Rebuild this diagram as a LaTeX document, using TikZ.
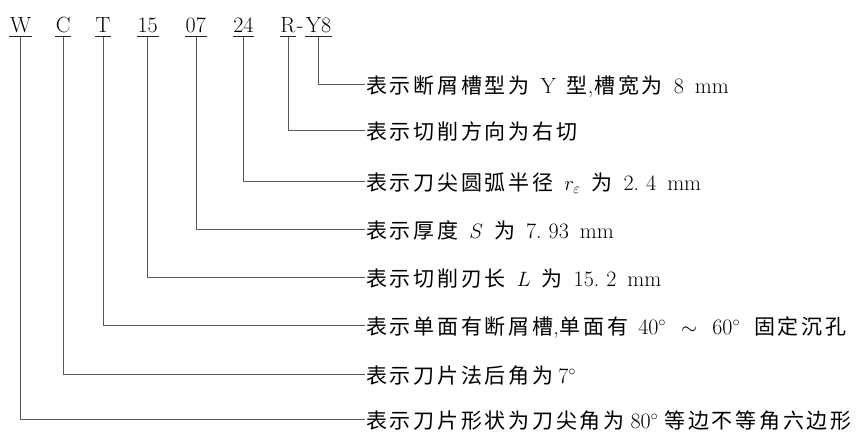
\documentclass[tikz,border=0pt]{standalone}
\usepackage{fontspec}
\newfontfamily\cjkf[LetterSpace=13]{Noto Sans CJK SC}
\newcommand\cj[1]{{\cjkf\fontsize{21}{26}\selectfont #1}}
\newcommand\gp{\hspace{11pt}}
\newcommand\dg{\hspace{7pt}}
\usetikzlibrary{calc}
\begin{document}
\begin{tikzpicture}[x=1pt,y=-1pt,
  code/.style={inner sep=0pt, anchor=base, font=\fontsize{22}{26}\selectfont},
  desc/.style={anchor=west, inner xsep=1pt, inner ysep=0pt, text height=19pt, text depth=1pt, font=\fontsize{22}{26}\selectfont},
  conn/.style={draw=black!65, line width=0.6pt},
  ul/.style={draw=black!85, line width=0.7pt}]
\useasboundingbox (0,0) rectangle (864,432);
% codes
\node[code] (cW) at (20.6,32) {W};
\node[code] (cC) at (63.2,32) {C};
\node[code] (cT) at (103,32) {T};
\node[code] (c15) at (147.7,32) {15};
\node[code] (c07) at (195.8,32) {07};
\node[code] (c24) at (243.4,32) {24};
\node[code] (cR) at (287.8,32) {R};
\node[code] (hy) at (300.2,32) {-};
\node[code] (cY) at (318.6,32) {Y8};
\foreach \n in {cW,cC,cT,c15,c07,c24,cR,cY}{
  \draw[ul] ([shift={(-0.6,4.7)}]\n.base west) -- ([shift={(0.6,4.7)}]\n.base east);
}
% descriptions
\node[desc] (dY) at (365,84) {\cj{表示断屑槽型为}\gp Y\gp\cj{型},\hspace{1pt}\cj{槽宽为}\gp 8\gp mm};
\node[desc] (dR) at (365,130) {\cj{表示切削方向为右切}};
\node[desc] (d24) at (365,181) {\cj{表示刀尖圆弧半径}\gp$r_\varepsilon$\gp\cj{为}\gp 2.\dg 4\gp mm};
\node[desc] (d07) at (365,229) {\cj{表示厚度}\gp$S$\gp\cj{为}\gp 7.\dg 93\gp mm};
\node[desc] (d15) at (365,277.5) {\cj{表示切削刃长}\gp$L$\gp\cj{为}\gp 15.\dg 2\gp mm};
\node[desc] (dT) at (365,325) {\cj{表示单面有断屑槽},\hspace{1pt}\cj{单面有}\hspace{10pt}40$^\circ$\hspace{15pt}$\sim$\hspace{15pt}60$^\circ$\hspace{14pt}\cj{固定沉孔}};
\node[desc] (dC) at (365,374) {\cj{表示刀片法后角为}\hspace{5pt}7$^\circ$};
\node[desc] (dW) at (365,419.3) {\cj{表示刀片形状为刀尖角为}\hspace{6pt}80$^\circ$\hspace{6pt}\cj{等边不等角六边形}};
% connectors
\draw[conn] ($(cY.base)+(0,4.7)$) |- (dY.west);
\draw[conn] ($(cR.base)+(0,4.7)$) |- (dR.west);
\draw[conn] ($(c24.base)+(0,4.7)$) |- (d24.west);
\draw[conn] ($(c07.base)+(0,4.7)$) |- (d07.west);
\draw[conn] ($(c15.base)+(0,4.7)$) |- (d15.west);
\draw[conn] ($(cT.base)+(0,4.7)$) |- (dT.west);
\draw[conn] ($(cC.base)+(0,4.7)$) |- (dC.west);
\draw[conn] ($(cW.base)+(0,4.7)$) |- (dW.west);
\end{tikzpicture}
\end{document}
